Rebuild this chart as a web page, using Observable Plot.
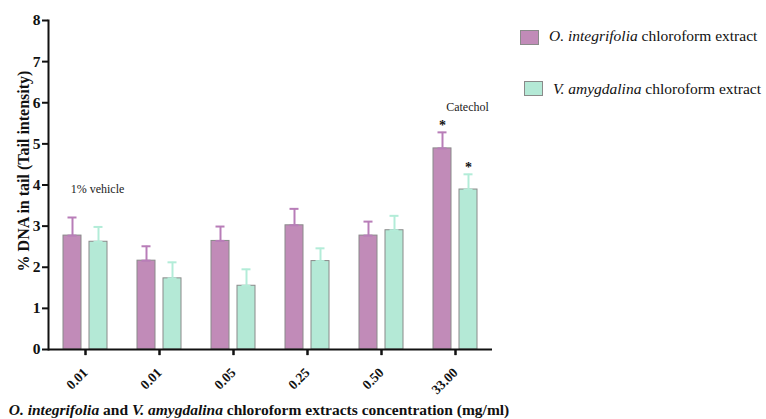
<!DOCTYPE html>
<html>
<head>
<meta charset="utf-8">
<script src="https://cdn.jsdelivr.net/npm/d3@7"></script>
<script src="https://cdn.jsdelivr.net/npm/@observablehq/plot@0.6"></script>
<style>
  body { margin: 0; background: #fff; }
  #wrap { position: relative; width: 766px; height: 419px; font-family: 'Liberation Serif', 'Times New Roman', Times, 'DejaVu Serif', serif; }
  #wrap svg text { font-family: 'Liberation Serif', 'Times New Roman', Times, 'DejaVu Serif', serif; }
  #wrap svg g[aria-label="y-axis tick label"] text { font-weight: bold !important; font-size: 15.5px !important; }
  #wrap svg g[aria-label="fx-axis tick label"] text { font-weight: bold !important; font-size: 13.5px !important; }
  #wrap svg g[aria-label="y-axis label"] text { font-weight: bold !important; font-size: 16px !important; }
  #wrap svg g.anno text { font-size: 12px !important; }
  .leg { position: absolute; font-size: 15.5px; line-height: 18px; color: #111; white-space: nowrap; }
  .sw { position: absolute; width: 17px; height: 13px; border: 1px solid #8a8a8a; }
  #xtitle { position: absolute; left: 5px; top: 401px; width: 508px; text-align: center; font-weight: bold; font-size: 15.5px; line-height: 18px; color: #111; white-space: nowrap; }
</style>
</head>
<body>
<div id="wrap"></div>
<script>
const groups = ["0.01", "0.01", "0.05", "0.25", "0.50", "33.00"];
const seriesKeys = ["O", "V"];
const oMeans = [2.77, 2.16, 2.64, 3.02, 2.77, 4.89];
const oErr   = [0.44, 0.35, 0.35, 0.40, 0.34, 0.39];
const vMeans = [2.62, 1.73, 1.55, 2.15, 2.90, 3.89];
const vErr   = [0.36, 0.39, 0.40, 0.31, 0.35, 0.37];
const starGroup = [5];
const annotations = [
  {g: 0, y: 3.89, text: "1% vehicle"},
  {g: 5, y: 5.89, text: "Catechol"}
];

const fills = ["#c18bb8", "#b4e9d6"];
const errColors = ["#b87db8", "#b3ecd8"];
const serif = "'Liberation Serif', 'Times New Roman', Times, serif";

const data = [];
groups.forEach((g, i) => {
  data.push({g: i, s: "O", mean: oMeans[i], err: oErr[i]});
  data.push({g: i, s: "V", mean: vMeans[i], err: vErr[i]});
});
const stars = data.filter(d => starGroup.includes(d.g));
const groupIdx = d3.range(groups.length);

const chart = Plot.plot({
  width: 766,
  height: 419,
  marginLeft: 48,
  marginRight: 274,
  marginTop: 20,
  marginBottom: 70,
  style: {fontFamily: serif, fontSize: "13px", color: "#111", background: "transparent"},
  fx: {domain: groupIdx, paddingInner: 0, paddingOuter: 0},
  x: {domain: seriesKeys, paddingInner: 0.296, paddingOuter: 0.52, axis: null},
  y: {domain: [0, 8]},
  color: {domain: seriesKeys, range: fills},
  marks: [
    Plot.barY(data, {fx: "g", x: "s", y: "mean", fill: "s", stroke: "#8a8a8a", strokeWidth: 1}),
    Plot.ruleX(data, {fx: "g", x: "s", y1: "mean", y2: d => d.mean + d.err,
      stroke: d => errColors[seriesKeys.indexOf(d.s)], strokeWidth: 2}),
    Plot.tickY(data, {fx: "g", x: "s", y: d => d.mean + d.err, insetLeft: 4.5, insetRight: 4.5,
      stroke: d => errColors[seriesKeys.indexOf(d.s)], strokeWidth: 2}),
    Plot.tickY(data, {fx: "g", x: "s", y: "mean", insetLeft: 4.5, insetRight: 4.5,
      stroke: d => errColors[seriesKeys.indexOf(d.s)], strokeWidth: 2}),
    Plot.text(stars, {fx: "g", x: "s", y: d => d.mean + d.err, text: () => "*", dy: -7,
      fontSize: 14, fontWeight: "bold", fill: "#111"}),
    Plot.text(annotations, {fx: "g", y: "y", text: "text", dx: 12, frameAnchor: "middle", fontSize: 12, fill: "#222", className: "anno"}),
    Plot.ruleY([0], {stroke: "#111", strokeWidth: 2}),
    Plot.ruleX(groupIdx, {fx: d => d, x: null, y1: 0, y2: -0.15, stroke: "#111", strokeWidth: 2}),
    Plot.frame({anchor: "left", facetAnchor: "left", stroke: "#111", strokeWidth: 2}),
    Plot.axisY({ticks: 8, tickSize: 6, strokeWidth: 2, tickFormat: d3.format("d"),
      label: "% DNA in tail (Tail intensity)", labelAnchor: "center",
      labelArrow: "none", labelOffset: 30, tickPadding: 2}),
    Plot.axisFx({anchor: "bottom", tickSize: 6, strokeWidth: 2, tickRotate: -45,
      tickFormat: i => groups[i], label: null, tickPadding: 15})
  ]
});

const wrap = document.getElementById("wrap");
wrap.appendChild(chart);
chart.style.position = "absolute";
chart.style.left = "0px";
chart.style.top = "0px";
chart.querySelectorAll("g[aria-label='y-axis label']").forEach(g => {
  const old = g.getAttribute("transform") || "";
  g.setAttribute("transform", "translate(-1,-14) " + old);
});

const legendItems = [
  {swL: 520, swT: 30, txL: 549, txT: 27, italic: "O. integrifolia", rest: " chloroform extract", fill: fills[0]},
  {swL: 524, swT: 81, txL: 553, txT: 80, italic: "V. amygdalina", rest: " chloroform extract", fill: fills[1]}
];
legendItems.forEach(it => {
  const sw = document.createElement("div");
  sw.className = "sw";
  sw.style.left = it.swL + "px";
  sw.style.top = it.swT + "px";
  sw.style.background = it.fill;
  wrap.appendChild(sw);
  const tx = document.createElement("div");
  tx.className = "leg";
  tx.style.left = it.txL + "px";
  tx.style.top = it.txT + "px";
  const i = document.createElement("i");
  i.textContent = it.italic;
  tx.appendChild(i);
  tx.appendChild(document.createTextNode(it.rest));
  wrap.appendChild(tx);
});

const xt = document.createElement("div");
xt.id = "xtitle";
xt.innerHTML = "<i>O. integrifolia</i> and <i>V. amygdalina</i> chloroform extracts concentration (mg/ml)";
wrap.appendChild(xt);
</script>
</body>
</html>
